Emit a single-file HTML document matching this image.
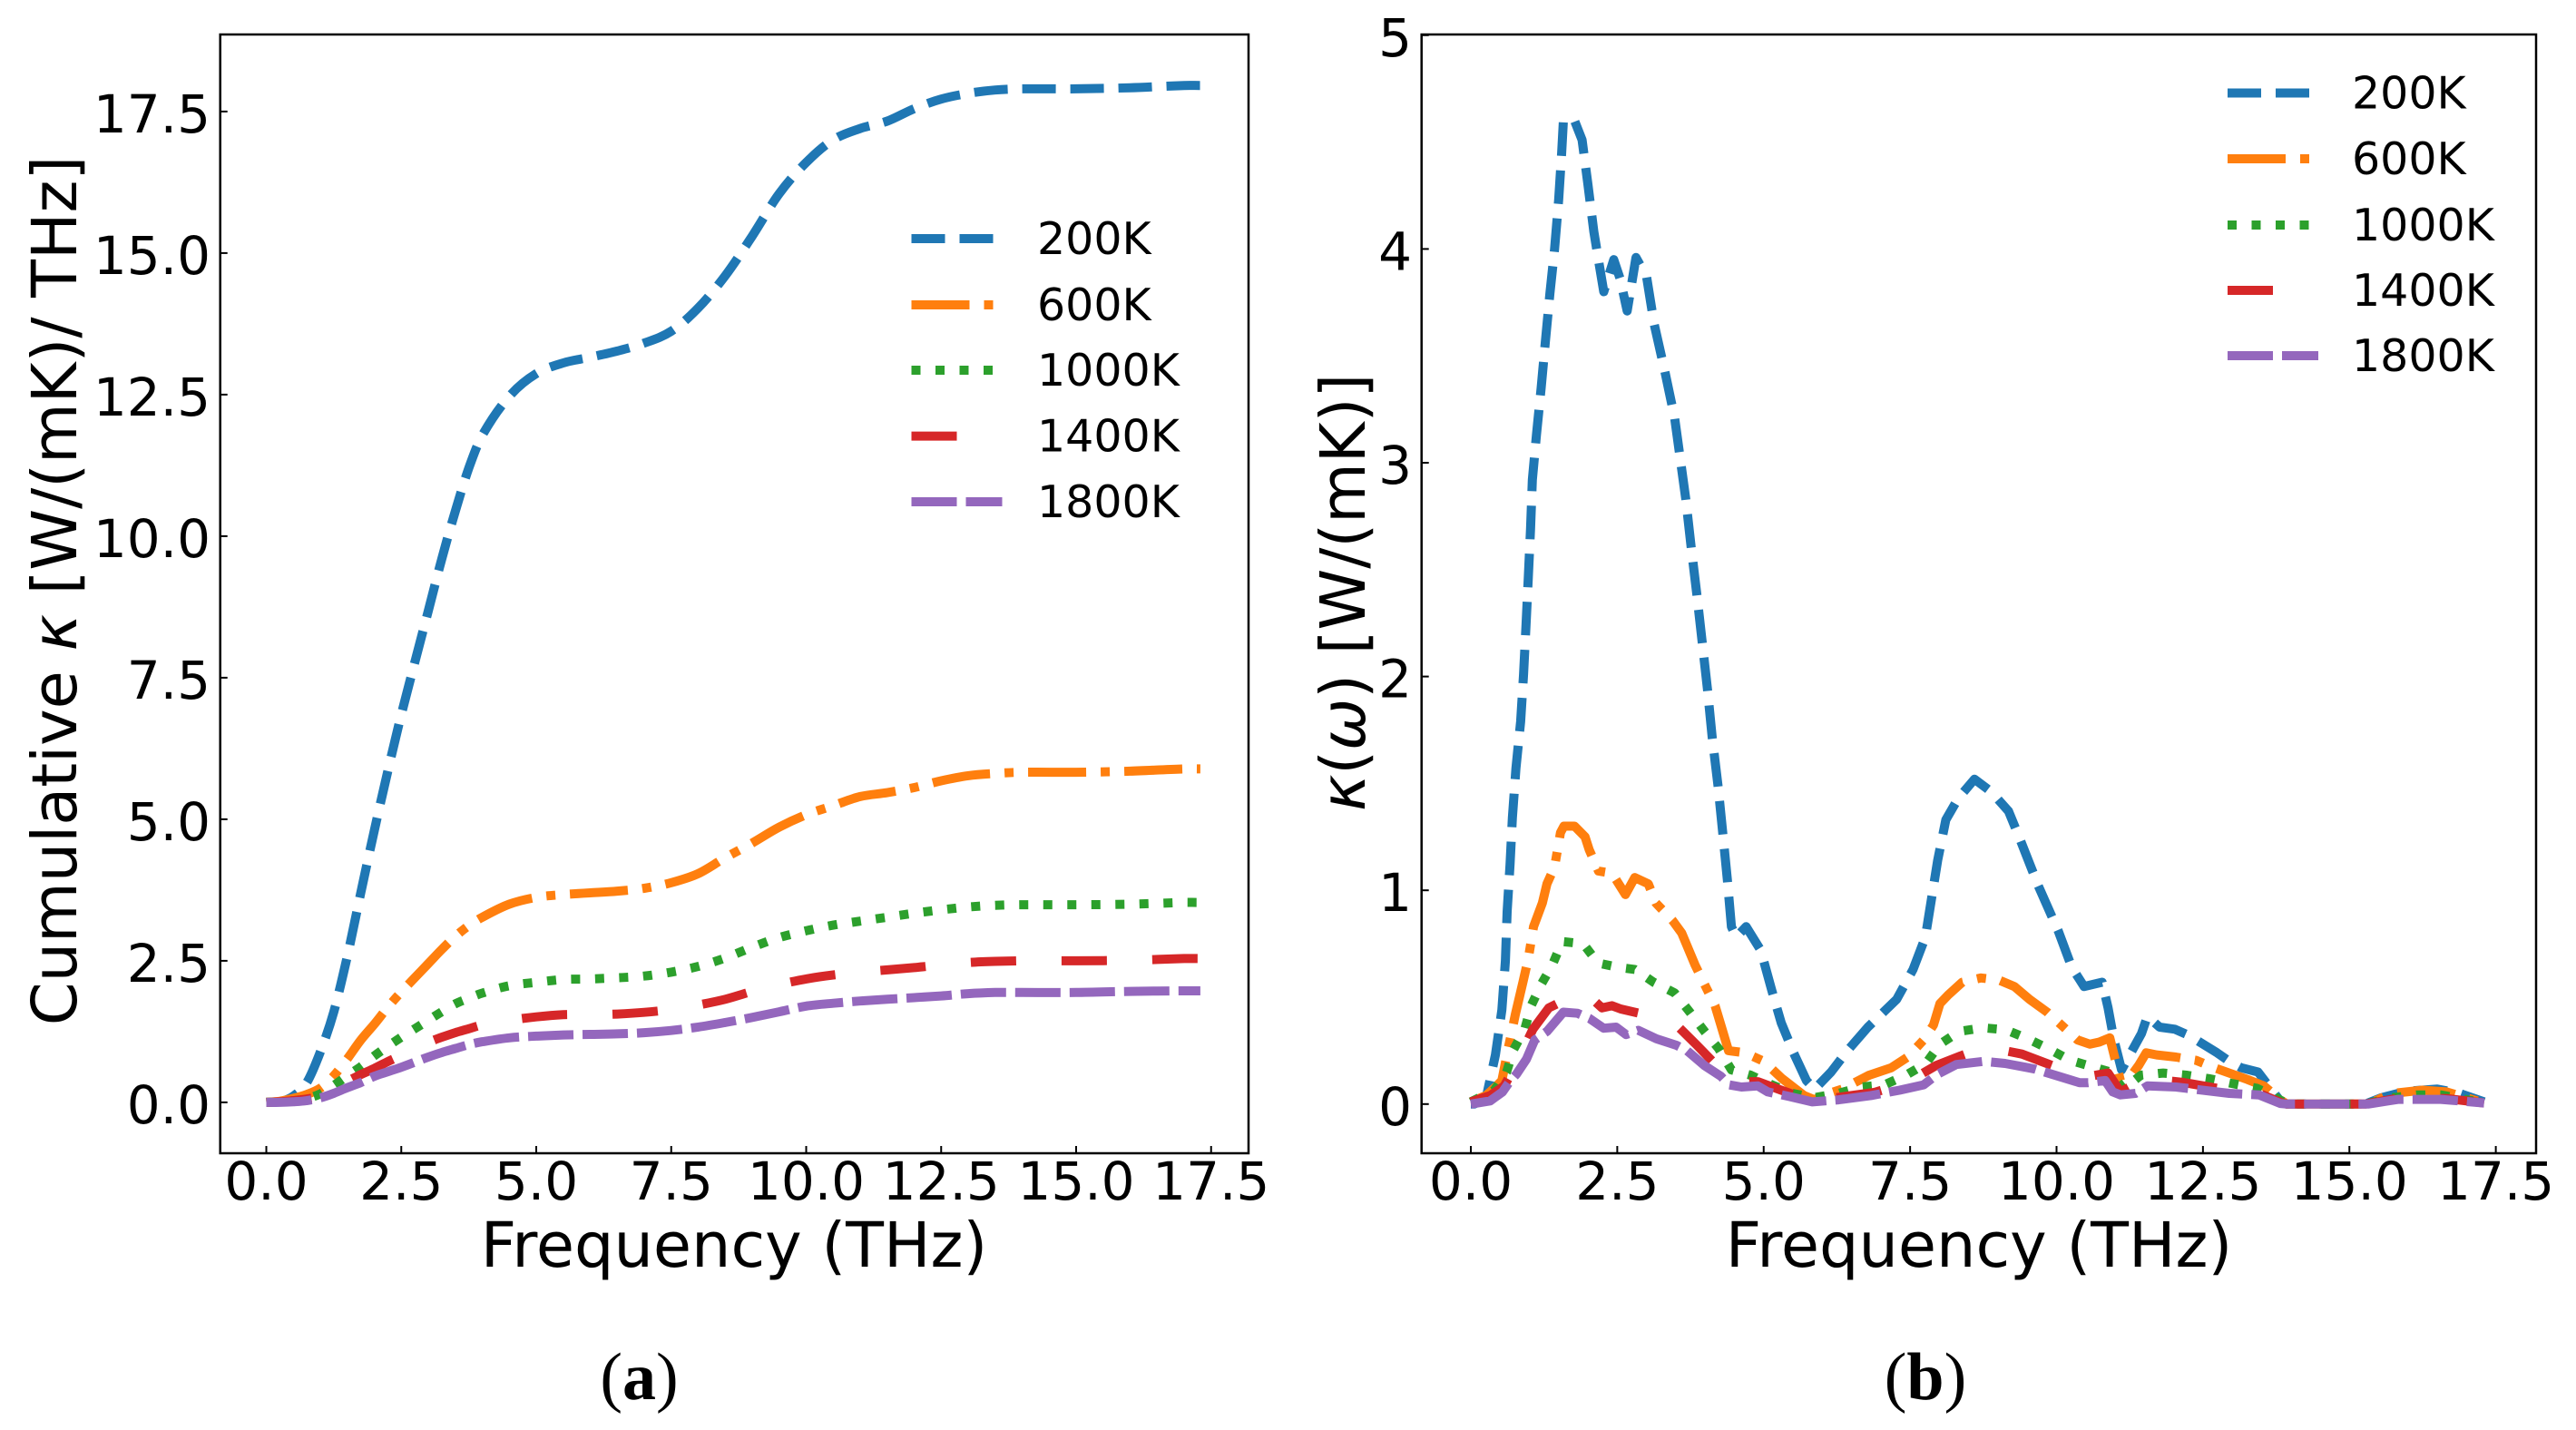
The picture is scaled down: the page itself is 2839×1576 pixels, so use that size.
<!DOCTYPE html>
<html lang="en">
<head>
<meta charset="utf-8">
<title>Cumulative and spectral thermal conductivity</title>
<style>
html,body{margin:0;padding:0;background:#fff;width:2839px;height:1576px;overflow:hidden}
svg{display:block}
text{font-family:"DejaVu Sans","Liberation Sans",sans-serif;fill:#000}
.tick{font-size:58px}
.axis-label{font-size:68.5px}
.legend{font-size:49px}
.caption{font-family:"Liberation Serif",serif;font-size:74px}
</style>
</head>
<body>
<svg id="figure" xmlns="http://www.w3.org/2000/svg" width="2839" height="1576" viewBox="0 0 2839 1576">
  <rect width="2839" height="1576" fill="#fff"/>
  <g id="panelA">
    <text class="axis-label" transform="translate(84 651) rotate(-90)" text-anchor="middle">Cumulative <tspan font-style="italic">κ</tspan> [W/(mK)/ THz]</text>
    <text class="axis-label" x="809" y="1396" text-anchor="middle">Frequency (THz)</text>
    <text class="caption" x="704.5" y="1542" text-anchor="middle">(<tspan font-weight="bold">a</tspan>)</text>
  </g>
  <g id="panelB">
    <text class="axis-label" transform="translate(1504 653) rotate(-90)" text-anchor="middle"><tspan font-style="italic">κ</tspan>(<tspan font-style="italic">ω</tspan>) [W/(mK)]</text>
    <text class="axis-label" x="2181" y="1396" text-anchor="middle">Frequency (THz)</text>
    <text class="caption" x="2122" y="1542" text-anchor="middle">(<tspan font-weight="bold">b</tspan>)</text>
  </g>
</svg>
<script>
// ---- shared labels ----
const seriesLabels = ['200K', '600K', '1000K', '1400K', '1800K'];
const xTickValues = [0, 2.5, 5, 7.5, 10, 12.5, 15, 17.5];
const xTickLabels = ['0.0', '2.5', '5.0', '7.5', '10.0', '12.5', '15.0', '17.5'];

// ---- panel (a): cumulative kappa ----
const yTickValuesA = [0, 2.5, 5, 7.5, 10, 12.5, 15, 17.5];
const yTickLabelsA = ['0.0', '2.5', '5.0', '7.5', '10.0', '12.5', '15.0', '17.5'];
const freqA = [0,0.25,0.5,0.75,1,1.25,1.5,1.75,2,2.25,2.5,2.75,3,3.25,3.5,3.75,4,4.5,5,5.5,6,6.5,7,7.5,8,8.5,9,9.5,10,10.5,11,11.5,12,12.5,13,13.5,14,15,16,17,17.3];
const cumul200 = [0,0.01,0.11,0.35,0.89,1.6,2.58,3.7,4.8,5.85,6.85,7.77,8.68,9.6,10.44,11.2,11.78,12.47,12.87,13.06,13.16,13.27,13.41,13.62,14.03,14.6,15.3,16.05,16.6,17.0,17.2,17.33,17.55,17.72,17.82,17.88,17.9,17.9,17.92,17.96,17.96];
const cumul600 = [0,0.02,0.07,0.14,0.25,0.47,0.77,1.1,1.38,1.68,1.95,2.2,2.45,2.7,2.93,3.12,3.27,3.5,3.62,3.67,3.7,3.73,3.78,3.88,4.04,4.32,4.58,4.86,5.08,5.24,5.4,5.47,5.56,5.68,5.77,5.81,5.83,5.83,5.85,5.89,5.89];
const cumul1000 = [0,0.01,0.03,0.07,0.15,0.3,0.47,0.63,0.82,0.99,1.15,1.3,1.45,1.6,1.74,1.84,1.93,2.06,2.12,2.17,2.18,2.2,2.23,2.3,2.4,2.55,2.74,2.91,3.03,3.13,3.2,3.27,3.34,3.4,3.45,3.48,3.49,3.49,3.5,3.53,3.53];
const cumul1400 = [0,0.01,0.03,0.06,0.11,0.22,0.37,0.49,0.6,0.72,0.83,0.95,1.06,1.15,1.23,1.3,1.37,1.45,1.51,1.55,1.55,1.56,1.59,1.64,1.72,1.82,1.96,2.08,2.18,2.25,2.3,2.34,2.38,2.43,2.47,2.49,2.5,2.5,2.51,2.54,2.54];
const cumul1800 = [0,0,0.01,0.03,0.08,0.16,0.26,0.35,0.46,0.54,0.62,0.71,0.8,0.88,0.95,1.02,1.07,1.14,1.17,1.19,1.2,1.21,1.23,1.27,1.33,1.41,1.5,1.6,1.7,1.75,1.79,1.82,1.85,1.88,1.92,1.94,1.94,1.94,1.96,1.97,1.97];

// ---- panel (b): spectral kappa ----
const yTickValuesB = [0, 1, 2, 3, 4, 5];
const yTickLabelsB = ['0', '1', '2', '3', '4', '5'];
const freqB200 = [0,0.06,0.27,0.42,0.53,0.59,0.62,0.67,0.71,0.77,0.85,0.9,0.94,0.98,1.02,1.05,1.12,1.2,1.27,1.35,1.43,1.5,1.55,1.58,1.66,1.77,1.9,2.0,2.1,2.19,2.27,2.44,2.55,2.67,2.82,3.0,3.13,3.31,3.48,3.67,3.76,3.86,3.95,4.04,4.12,4.22,4.3,4.38,4.45,4.53,4.7,4.95,5.14,5.3,5.51,5.73,5.87,6.15,6.43,6.78,7.27,7.55,7.76,7.97,8.11,8.32,8.6,8.89,9.18,9.36,9.69,10.03,10.26,10.47,10.78,10.88,10.98,11.11,11.19,11.45,11.55,11.76,12.02,12.27,12.74,12.95,13.15,13.44,13.62,13.82,13.93,15.27,15.55,15.97,16.5,16.88,17.3];
const kappa200 = [0,0,0.04,0.23,0.44,0.67,0.9,1.12,1.34,1.57,1.79,2.01,2.23,2.46,2.69,2.92,3.13,3.35,3.56,3.79,4.0,4.23,4.45,4.6,4.61,4.6,4.51,4.3,4.08,3.93,3.8,3.95,3.86,3.71,3.96,3.87,3.65,3.43,3.21,2.83,2.61,2.38,2.16,1.94,1.72,1.49,1.27,1.05,0.83,0.78,0.83,0.72,0.53,0.38,0.24,0.11,0.07,0.15,0.25,0.36,0.49,0.63,0.78,1.14,1.33,1.43,1.52,1.46,1.37,1.25,1.02,0.81,0.64,0.55,0.57,0.45,0.3,0.16,0.2,0.33,0.41,0.36,0.35,0.32,0.24,0.2,0.17,0.15,0.085,0.015,0,0,0.03,0.06,0.07,0.05,0.01];
const freqB600 = [0,0.26,0.44,0.53,0.63,0.76,0.89,0.98,1.07,1.22,1.3,1.43,1.53,1.59,1.77,1.95,2.02,2.18,2.41,2.64,2.8,3.03,3.16,3.44,3.6,3.83,3.99,4.17,4.4,4.68,5.0,5.31,5.69,5.87,6.0,6.34,6.8,7.18,7.46,7.73,7.9,8.01,8.15,8.39,8.71,9.02,9.28,9.54,9.84,10.08,10.36,10.57,10.73,10.91,11.09,11.24,11.4,11.53,11.71,12.04,12.38,12.69,13.26,13.54,13.82,13.93,15.32,15.73,16.25,16.66,17.3];
const kappa600 = [0.01,0.04,0.085,0.11,0.25,0.42,0.57,0.68,0.83,0.94,1.03,1.11,1.27,1.3,1.3,1.25,1.19,1.09,1.08,0.98,1.06,1.03,0.94,0.86,0.8,0.65,0.56,0.46,0.25,0.24,0.2,0.12,0.04,0.02,0.04,0.07,0.135,0.17,0.22,0.3,0.37,0.47,0.51,0.57,0.59,0.58,0.55,0.49,0.43,0.37,0.3,0.28,0.29,0.31,0.11,0.12,0.18,0.24,0.23,0.22,0.205,0.17,0.115,0.085,0.02,0,0,0.05,0.065,0.057,0.005];
const freqB1000 = [0,0.4,0.61,0.73,0.92,1.03,1.2,1.39,1.56,1.92,2.17,2.51,2.8,3.12,3.48,3.74,3.99,4.23,4.45,4.78,5.14,5.49,5.87,6.28,6.66,7.06,7.43,7.77,8.01,8.34,8.74,9.14,9.51,9.87,10.23,10.61,10.92,11.14,11.44,11.82,12.22,12.62,13.02,13.42,13.75,13.93,15.27,15.73,16.15,16.56,17.3];
const kappa1000 = [0.01,0.065,0.15,0.255,0.35,0.46,0.56,0.65,0.76,0.75,0.66,0.64,0.63,0.57,0.52,0.43,0.34,0.26,0.16,0.135,0.09,0.05,0.03,0.05,0.08,0.09,0.135,0.19,0.28,0.34,0.357,0.347,0.305,0.258,0.205,0.175,0.15,0.07,0.135,0.145,0.135,0.118,0.095,0.074,0.03,0,0,0.03,0.043,0.043,0.005];
const freqB1400 = [0,0.33,0.57,0.8,0.99,1.06,1.33,1.7,1.96,2.24,2.41,2.56,3.27,3.51,3.86,4.41,4.62,4.9,5.1,5.45,5.87,6.49,6.9,7.32,7.66,7.94,8.36,8.66,9.02,9.41,10.16,10.47,10.88,11.09,11.42,11.6,12.15,12.95,13.46,13.82,13.93,15.27,15.89,16.66,17.3];
const kappa1400 = [0.01,0.04,0.085,0.2,0.31,0.35,0.45,0.5,0.52,0.45,0.46,0.445,0.4,0.37,0.275,0.12,0.105,0.105,0.085,0.05,0.015,0.04,0.055,0.09,0.135,0.18,0.225,0.255,0.255,0.234,0.156,0.125,0.145,0.057,0.107,0.117,0.102,0.064,0.05,0.008,0,0,0.03,0.026,0.005];
const freqB1800 = [0,0.33,0.54,0.65,0.78,0.95,1.09,1.3,1.58,1.82,2.03,2.27,2.48,2.65,2.86,3.17,3.51,3.69,3.99,4.27,4.41,4.62,4.9,5.07,5.45,5.83,6.28,6.83,7.32,7.73,7.97,8.29,8.76,9.12,9.51,9.64,10.39,10.54,10.83,10.96,11.09,11.35,11.55,12.04,12.22,12.95,13.46,13.82,13.93,15.32,15.66,15.84,16.56,17.3];
const kappa1800 = [0,0.015,0.057,0.1,0.14,0.21,0.3,0.34,0.43,0.425,0.4,0.355,0.36,0.325,0.345,0.305,0.275,0.25,0.18,0.13,0.09,0.08,0.085,0.057,0.035,0.01,0.02,0.04,0.065,0.09,0.14,0.185,0.2,0.19,0.17,0.163,0.1,0.1,0.11,0.057,0.043,0.05,0.085,0.08,0.074,0.05,0.043,0.003,0,0,0.015,0.022,0.022,0.005];

const SVG_NS = 'http://www.w3.org/2000/svg';
const seriesColors = ['#1f77b4', '#ff7f0e', '#2ca02c', '#d62728', '#9467bd'];
const seriesDashes = ['37 16', '64 16 10 16', '10 16.5', '50 50', '50 10'];
const handleLengths = [90, 90, 90, 90, 100];

function xScaleA(f) { return 293.5 + f * 59.5; }
function yScaleA(v) { return 1214.9 - v * 62.4; }
function xScaleB(f) { return 1621 + f * 64.55; }
function yScaleB(v) { return 1216.8 - v * 235.6; }

function make(tag, attrs, parent) {
  const el = document.createElementNS(SVG_NS, tag);
  for (const k in attrs) el.setAttribute(k, attrs[k]);
  parent.appendChild(el);
  return el;
}

function smoothPath(px, py) {
  const n = px.length;
  const slope = px.map((x, i) => {
    const a = Math.max(i - 1, 0);
    const b = Math.min(i + 1, n - 1);
    return (py[b] - py[a]) / (px[b] - px[a]);
  });
  let d = 'M' + px[0].toFixed(1) + ' ' + py[0].toFixed(1);
  for (let i = 0; i < n - 1; i++) {
    const dx = (px[i + 1] - px[i]) / 3;
    d += ' C' + (px[i] + dx).toFixed(1) + ' ' + (py[i] + slope[i] * dx).toFixed(1) +
         ' ' + (px[i + 1] - dx).toFixed(1) + ' ' + (py[i + 1] - slope[i + 1] * dx).toFixed(1) +
         ' ' + px[i + 1].toFixed(1) + ' ' + py[i + 1].toFixed(1);
  }
  return d;
}

function straightPath(px, py) {
  return 'M' + px.map((x, j) => x.toFixed(1) + ' ' + py[j].toFixed(1)).join(' L');
}

function drawSeries(parent, xs, ys, xf, yf, i, prefix, smooth) {
  const px = xs.map(xf);
  const py = ys.map(yf);
  const line = make('path', {
    d: smooth ? smoothPath(px, py) : straightPath(px, py),
    fill: 'none', stroke: seriesColors[i], 'stroke-width': 10,
    'stroke-dasharray': seriesDashes[i], 'stroke-linejoin': 'round', 'stroke-linecap': 'butt'
  }, parent);
  
  
}

function drawAxes(parent, box, xf, yf, yVals, yLabs, yLabelX, prefix) {
  const frame = make('rect', {
    x: box.l, y: box.t, width: box.r - box.l, height: box.b - box.t,
    fill: 'none', stroke: '#000', 'stroke-width': 2.5
  }, parent);
  
  
  xTickValues.forEach((t, j) => {
    const mark = make('line', { x1: xf(t), x2: xf(t), y1: box.b, y2: box.b - 8, stroke: '#000', 'stroke-width': 2 }, parent);
    
    
    const lab = make('text', { x: xf(t), y: 1322, 'text-anchor': 'middle', class: 'tick' }, parent);
    lab.textContent = xTickLabels[j];
    
    
  });
  yVals.forEach((t, j) => {
    const mark = make('line', { x1: box.l, x2: box.l + 8, y1: yf(t), y2: yf(t), stroke: '#000', 'stroke-width': 2 }, parent);
    
    
    const lab = make('text', { x: yLabelX, y: yf(t) + 23, 'text-anchor': 'end', class: 'tick' }, parent);
    lab.textContent = yLabs[j];
    
    
  });
}

function drawLegend(parent, hx, tx, ys, prefix) {
  seriesLabels.forEach((name, i) => {
    const handle = make('line', {
      x1: hx, x2: hx + handleLengths[i], y1: ys[i], y2: ys[i],
      stroke: seriesColors[i], 'stroke-width': 10, 'stroke-dasharray': seriesDashes[i]
    }, parent);
    
    
    const lab = make('text', { x: tx, y: ys[i] + 17, class: 'legend' }, parent);
    lab.textContent = name;
    
    
  });
}

const panelA = document.getElementById('panelA');
const panelB = document.getElementById('panelB');

drawAxes(panelA, { l: 242.7, r: 1376, t: 38, b: 1271 }, xScaleA, yScaleA, yTickValuesA, yTickLabelsA, 232, 'panel-a');
[cumul200, cumul600, cumul1000, cumul1400, cumul1800].forEach((vals, i) => {
  drawSeries(panelA, freqA, vals, xScaleA, yScaleA, i, 'panel-a', true);
});
drawLegend(panelA, 1004.5, 1143, [263, 336, 408, 480.6, 553], 'panel-a');

drawAxes(panelB, { l: 1566.7, r: 2795, t: 38, b: 1271 }, xScaleB, yScaleB, yTickValuesB, yTickLabelsB, 1556, 'panel-b');
[[freqB200, kappa200], [freqB600, kappa600], [freqB1000, kappa1000], [freqB1400, kappa1400], [freqB1800, kappa1800]].forEach((pair, i) => {
  drawSeries(panelB, pair[0], pair[1], xScaleB, yScaleB, i, 'panel-b', false);
});
drawLegend(panelB, 2455, 2592, [102.5, 175, 248, 320, 392], 'panel-b');
</script>
</body>
</html>
